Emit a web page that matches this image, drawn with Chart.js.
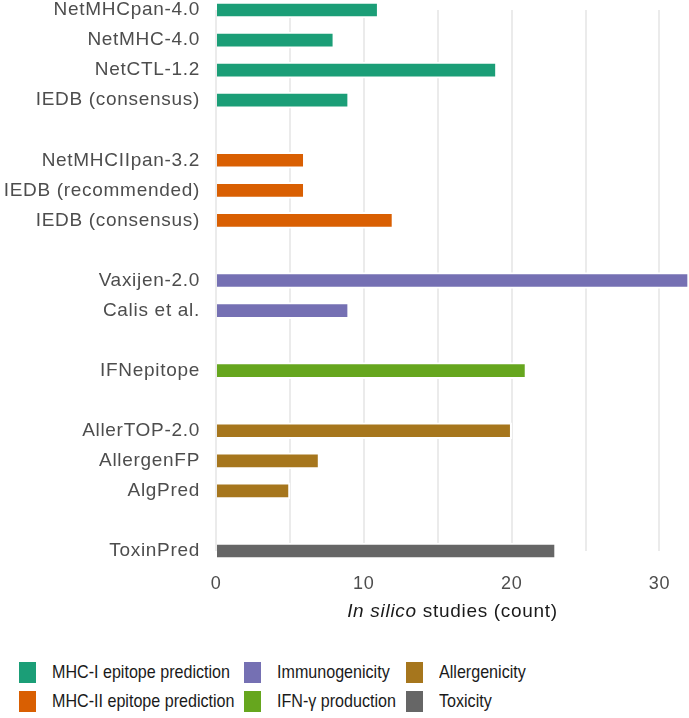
<!DOCTYPE html>
<html>
<head>
<meta charset="utf-8">
<script src="https://cdn.jsdelivr.net/npm/chart.js@4.4.1/dist/chart.umd.min.js"></script>
<style>
  body { margin: 0; background: #fff; font-family: "Liberation Sans", Arial, sans-serif; }
  .wrap { position: relative; width: 689px; height: 718px; overflow: hidden; }
  .chart-box { position: absolute; left: 0; top: 0; width: 689px; height: 631px; }
  .legend { position: absolute; left: 0; top: 662px; width: 689px; }
  .legend-item { position: absolute; height: 22px; }
  .legend-item .swatch { position: absolute; left: 0; top: 0; width: 17px; height: 21px; }
  .legend-item .txt { position: absolute; left: 33px; top: -1px; font-size: 18.5px; line-height: 22px;
    color: #1a1a1a; white-space: nowrap; transform: scaleX(0.87); transform-origin: left center; }
</style>
</head>
<body>
<div class="wrap">
  <div class="chart-box"><canvas id="toolChart"></canvas></div>
  <div class="legend" id="legend"></div>
</div>
<script>
// tools, top to bottom ('' = spacer row between groups)
const tools = [
  'NetMHCpan-4.0', 'NetMHC-4.0', 'NetCTL-1.2', 'IEDB (consensus)', '',
  'NetMHCIIpan-3.2', 'IEDB (recommended)', 'IEDB (consensus)', '',
  'Vaxijen-2.0', 'Calis et al.', '',
  'IFNepitope', '',
  'AllerTOP-2.0', 'AllergenFP', 'AlgPred', '',
  'ToxinPred'
]
const studyCounts = [11, 8, 19, 9, null, 6, 6, 12, null, 32, 9, null, 21, null, 20, 7, 5, null, 23]
const toolGroup = [0, 0, 0, 0, null, 1, 1, 1, null, 2, 2, null, 3, null, 4, 4, 4, null, 5]

const groupNames = ['MHC-I epitope prediction', 'MHC-II epitope prediction', 'Immunogenicity',
  'IFN-\u03b3 production', 'Allergenicity', 'Toxicity']
const groupColors = ['#1b9e77', '#d95f02', '#7570b3', '#66a61e', '#a6761d', '#666666']

const xTicks = [0, 10, 20, 30]
const xGrid = [0, 5, 10, 15, 20, 25, 30]
const xMax = 32

const FONT = '"Liberation Sans", Arial, sans-serif'

// slightly wider text, like the original
const spacing = {
  id: 'spacing',
  beforeDraw(chart) { chart.ctx.letterSpacing = '0.7px' }
}

// axis title with italic part, drawn under the tick labels
const axisTitle = {
  id: 'axisTitle',
  afterDraw(chart) {
    const { ctx, chartArea } = chart
    const italicPart = 'In silico'
    const rest = ' studies (count)'
    ctx.save()
    ctx.fillStyle = '#1a1a1a'
    ctx.textBaseline = 'middle'
    ctx.font = 'italic 19px ' + FONT
    const w1 = ctx.measureText(italicPart).width
    ctx.font = '19px ' + FONT
    const w2 = ctx.measureText(rest).width
    const x = (chartArea.left + chartArea.right) / 2 - (w1 + w2) / 2
    const y = chartArea.bottom + 61
    ctx.font = 'italic 19px ' + FONT
    ctx.fillText(italicPart, x, y)
    ctx.font = '19px ' + FONT
    ctx.fillText(rest, x + w1, y)
    ctx.restore()
  }
}

const ctx = document.getElementById('toolChart').getContext('2d')
new Chart(ctx, {
  type: 'bar',
  data: {
    labels: tools,
    datasets: [{
      data: studyCounts,
      backgroundColor: toolGroup.map(g => g === null ? 'transparent' : groupColors[g]),
      borderColor: '#ffffff',
      borderWidth: 2,
      barThickness: 16,
      clip: false
    }]
  },
  options: {
    indexAxis: 'y',
    responsive: true,
    maintainAspectRatio: false,
    animation: false,
    layout: { padding: { top: 10, right: 0, bottom: 0, left: 0 } },
    plugins: { legend: { display: false }, tooltip: { enabled: false } },
    scales: {
      x: {
        min: 0,
        max: xMax,
        border: { display: false },
        grid: {
          drawTicks: false,
          lineWidth: 2,
          color: '#ebebeb'
        },
        ticks: {
          padding: 22,
          color: '#4d4d4d',
          font: { size: 18, family: FONT },
          callback: v => xTicks.includes(v) ? v : ''
        },
        afterBuildTicks: s => { s.ticks = xGrid.map(v => ({ value: v })) },
        afterFit: s => { s.height = 80; s.paddingLeft = 0; s.paddingRight = 0 }
      },
      y: {
        offset: false,
        border: { display: false },
        grid: { display: false, drawTicks: false },
        ticks: {
          padding: 16,
          color: '#4d4d4d',
          autoSkip: false,
          font: { size: 19, family: FONT }
        },
        afterFit: s => { s.width = 216; s.paddingTop = 0; s.paddingBottom = 0 }
      }
    }
  },
  plugins: [spacing, axisTitle]
})

// legend laid out in columns, like the original
const legendEl = document.getElementById('legend')
const colX = [19, 244, 406]
groupNames.forEach((name, i) => {
  const col = Math.floor(i / 2)
  const row = i % 2
  const item = document.createElement('div')
  item.className = 'legend-item'
  item.style.left = colX[col] + 'px'
  item.style.top = (row * 29) + 'px'
  item.innerHTML = `<div class="swatch" style="background:${groupColors[i]}"></div><div class="txt">${name}</div>`
  legendEl.appendChild(item)
})
</script>
</body>
</html>
